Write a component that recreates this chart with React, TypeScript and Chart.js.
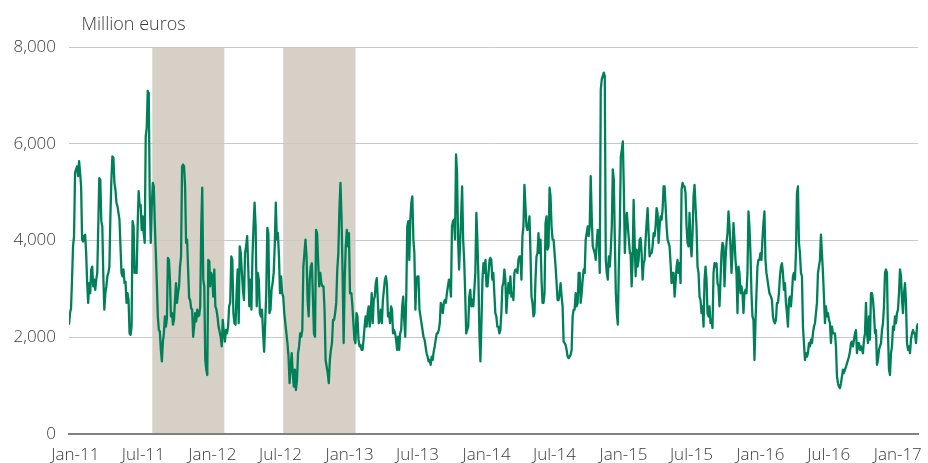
import React, { useEffect, useRef } from 'react';
import { Chart, registerables } from 'chart.js';

Chart.register(...registerables);

// X-axis tick dates and their labels
const tickDates = ['2011-01-01', '2011-07-01', '2012-01-01', '2012-07-01', '2013-01-01', '2013-07-01', '2014-01-01', '2014-07-01', '2015-01-01', '2015-07-01', '2016-01-01', '2016-07-01', '2017-01-01'];
const tickLabels = ['Jan-11', 'Jul-11', 'Jan-12', 'Jul-12', 'Jan-13', 'Jul-13', 'Jan-14', 'Jul-14', 'Jan-15', 'Jul-15', 'Jan-16', 'Jul-16', 'Jan-17'];

// Shaded periods
const shadeStarts = ['2011-07-25', '2012-07-08'];
const shadeEnds = ['2012-02-02', '2013-01-17'];

// Sampling ranges of each yearly series block (values are evenly spaced within each range)
const segmentStarts = ['2010-12-15', '2011-12-26', '2013-01-03', '2014-01-11', '2015-01-20', '2016-01-29'];
const segmentEnds = ['2011-12-24', '2013-01-02', '2014-01-09', '2015-01-18', '2016-01-25', '2017-02-24'];

// Series values (million euros)
const v2011 = [2260, 2500, 2600, 3190, 3880, 4090, 5400, 5470, 5530, 5330, 5640, 5400, 5120, 4020, 3980, 4090, 4120, 3740, 3120, 2710, 3120, 2910, 3400, 3460, 3050, 3190, 2980, 3190, 3330, 4290, 5290, 5260, 4400, 4290, 3260, 2570, 2910, 3050, 3260, 3330, 3460, 4500, 5260, 5740, 5710, 5190, 5050, 4780, 4710, 4570, 4430, 3880, 3330, 3260, 3400, 3120, 3150, 2710, 2910, 2770, 2080, 2050, 2220, 4400, 4290, 3330, 3460, 3330, 4290, 5020, 4710, 4740, 4220, 4500, 4150, 3950, 6150, 6330, 7090, 7050, 4910, 3950, 4710, 5190, 5120, 4360, 3740, 3120, 2430, 2150, 2120, 1740, 1500, 1910, 2080, 2430, 2220, 2390, 3640, 3600, 3190, 2430, 2500, 2260, 2360, 2770, 3120, 2710, 2910, 3050, 3460, 3670, 5530, 5570, 5530, 5120, 3950, 4020, 3400, 2810, 2770, 2600, 2570, 2010, 2220, 2500, 2330, 2570, 2430, 2460, 2640, 4290, 5090, 3190, 3050, 1530, 1330, 1220, 3600, 3570];
const v2012 = [3050, 3330, 3260, 2840, 3400, 2640, 2570, 2430, 2220, 2120, 2010, 1810, 2360, 2080, 1910, 2150, 2080, 2220, 2640, 2710, 3670, 3600, 2500, 2290, 2260, 2910, 3400, 2290, 3880, 3740, 3330, 2980, 2770, 3740, 3880, 4090, 3460, 2640, 3190, 2570, 3670, 4290, 4780, 4290, 2640, 3330, 3190, 2500, 2430, 2570, 2080, 1700, 2290, 2910, 4260, 4150, 2500, 2570, 2980, 3120, 3330, 3880, 4780, 4020, 4150, 3670, 2910, 3260, 2910, 2840, 2500, 2290, 2080, 1880, 1600, 1050, 1390, 1670, 1260, 980, 1330, 910, 1120, 1670, 1810, 2080, 2010, 2150, 3460, 3740, 4020, 3670, 2770, 2430, 3190, 3460, 3530, 2840, 2080, 2010, 4220, 4150, 3530, 3050, 3330, 3120, 3050, 3050, 2570, 1530, 1390, 1260, 1050, 1530, 1740, 1880, 2360, 2360, 2500, 2710, 3400, 3740, 4640, 5190, 4500, 3330, 1880, 3190, 3880, 4220, 3880, 4150, 2910];
const v2013 = [2910, 2910, 2640, 2290, 1950, 1880, 2500, 2430, 1950, 1810, 1840, 1740, 1740, 1950, 2220, 2430, 2220, 2500, 2640, 2220, 2500, 2910, 2290, 2770, 2840, 3120, 3220, 2770, 2290, 2360, 2570, 2290, 2770, 2980, 3190, 3260, 3080, 2430, 2500, 2290, 2640, 2570, 2080, 2150, 2080, 1950, 1740, 2010, 1740, 2080, 2150, 2640, 2840, 2360, 2010, 2840, 4290, 4400, 3600, 4430, 4780, 4910, 4020, 3740, 2570, 3190, 3260, 3260, 2570, 2430, 2290, 2150, 2010, 1950, 1810, 1670, 1600, 1500, 1530, 1430, 1600, 1530, 1700, 1810, 1950, 2080, 2080, 2150, 2290, 2710, 2640, 2500, 2710, 2770, 2710, 2910, 3050, 3190, 3120, 2840, 4290, 4400, 4430, 4020, 5780, 5400, 4020, 3400, 3950, 4500, 5120, 4020, 3600, 2910, 2080, 2150, 2220, 2840, 2980, 2640, 2770, 2640, 2980, 3330, 4570, 4020, 3260, 2080, 1500, 2290, 3190, 3530, 3330, 3600, 3050, 3050, 3330, 3600];
const v2014 = [3640, 3600, 3190, 3330, 2910, 2500, 2430, 2220, 2220, 2080, 2150, 2500, 3050, 3120, 3400, 3190, 2500, 2840, 3120, 2910, 3260, 2840, 2910, 2770, 3330, 3400, 3400, 3330, 3600, 3670, 3670, 3190, 4090, 4290, 5150, 4710, 4290, 4220, 4290, 4500, 3740, 2840, 2710, 2430, 2500, 3190, 3670, 3740, 4150, 3740, 4020, 3190, 2710, 2710, 2910, 4360, 4500, 3810, 3880, 5090, 4910, 4290, 4020, 4020, 3740, 3460, 3120, 2770, 2770, 2910, 3120, 2840, 2640, 1910, 1880, 1840, 1740, 1600, 1570, 1600, 1640, 1740, 2430, 2570, 2570, 2910, 2640, 2710, 3330, 3330, 2710, 2910, 3190, 3400, 3330, 4020, 4150, 4290, 4090, 4290, 5330, 4500, 3880, 3810, 3740, 3600, 3950, 4220, 4020, 3330, 7120, 7330, 7400, 7470, 7400, 3600, 3330, 3190, 3670, 3460, 3810, 4290, 5470, 5260, 4020, 2910, 2500, 2260, 3460, 4290, 5740, 5880, 6050, 5050, 3740, 4360, 4570, 4290, 4020, 3740];
const v2015 = [3740, 3050, 3600, 4840, 4020, 3260, 3810, 3460, 3600, 4020, 4050, 3740, 3190, 3530, 3600, 4020, 4360, 4670, 4150, 3670, 3740, 3740, 3880, 4150, 4090, 4290, 4670, 4570, 3950, 4290, 4500, 4430, 4640, 5120, 5120, 4710, 4290, 4020, 3950, 3880, 3530, 3120, 3330, 3330, 2840, 3120, 3460, 3600, 3330, 3530, 3120, 5050, 5190, 5120, 5120, 4980, 4290, 3950, 3880, 4570, 3950, 3670, 4150, 4910, 5150, 4710, 4290, 3460, 3330, 2840, 2770, 2500, 2640, 2220, 3190, 3460, 3190, 2500, 2430, 2640, 2290, 2360, 2190, 3330, 3530, 3460, 3530, 3120, 3050, 2640, 3190, 3740, 3950, 3880, 3050, 3600, 3950, 4150, 4600, 4290, 3880, 3330, 3740, 4360, 4020, 3600, 3330, 2500, 3460, 3330, 2910, 3050, 2910, 2500, 2910, 2980, 2910, 3330, 4600, 4290, 3740, 2910, 2430, 2360, 1530, 2290, 2910, 3460, 3600, 3600, 3740, 3600, 4020, 4360, 4600, 3600, 3330, 3190, 3050, 2910];
const v2016 = [2840, 2770, 2430, 2330, 2290, 2360, 2710, 2710, 2910, 3260, 3460, 3530, 3330, 2980, 3120, 2710, 2500, 2220, 2770, 2840, 2640, 2910, 3260, 3330, 3190, 3740, 4980, 5120, 3950, 3740, 3330, 3260, 2220, 1880, 1530, 1670, 1600, 1670, 1880, 1810, 1950, 1880, 2080, 2220, 2290, 2500, 2710, 3330, 3460, 3600, 4120, 3740, 3330, 2840, 2290, 2640, 2430, 2500, 2360, 2290, 1880, 2220, 2080, 2080, 2080, 1810, 1190, 1050, 980, 950, 1050, 1190, 1330, 1260, 1330, 1390, 1460, 1530, 1600, 1700, 1880, 1910, 1810, 1950, 2080, 2150, 1670, 1880, 1880, 1740, 1810, 1740, 1670, 1950, 2080, 2710, 2080, 1880, 2430, 1950, 2910, 2910, 2770, 2500, 2080, 2150, 1430, 1530, 1740, 1810, 1880, 2150, 2290, 2640, 3330, 3400, 3330, 2080, 1330, 1220, 1670, 1810, 2220, 2150, 2430, 2290, 2500, 2570, 2910, 3400, 3260, 2770, 2500, 2910, 3120, 2710, 1880, 1740, 1810, 1670, 1950, 2080, 2150, 2080, 2080, 1880, 2220, 2290];

const seriesBlocks = [v2011, v2012, v2013, v2014, v2015, v2016];

const yTicks = [0, 2000, 4000, 6000, 8000];
const yAxisTitle = 'Million euros';

const FONT = '"Open Sans", "Noto Sans", sans-serif';
const TEXT = '#3a3a3a';

const dayOf = (s: string) =>
  (Date.parse(s + 'T00:00:00Z') - Date.parse('2011-01-01T00:00:00Z')) / 86400000;

function buildPoints() {
  const pts: { x: number; y: number }[] = [];
  seriesBlocks.forEach((vals, k) => {
    const a = dayOf(segmentStarts[k]);
    const b = dayOf(segmentEnds[k]);
    vals.forEach((v, i) => {
      pts.push({ x: a + ((b - a) * i) / (vals.length - 1), y: v });
    });
  });
  return pts;
}

const shadePlugin = {
  id: 'shade',
  beforeDraw(chart: any) {
    const { ctx, chartArea, scales } = chart;
    const x = scales.x;
    ctx.save();
    ctx.fillStyle = '#d7d0c7';
    shadeStarts.forEach((s, i) => {
      const x1 = x.getPixelForValue(dayOf(s));
      const x2 = x.getPixelForValue(dayOf(shadeEnds[i]));
      ctx.fillRect(x1, chartArea.top, x2 - x1, chartArea.bottom - chartArea.top);
    });
    ctx.restore();
  },
};

const titlePlugin = {
  id: 'unitTitle',
  afterDraw(chart: any) {
    const { ctx, chartArea } = chart;
    ctx.save();
    ctx.font = `300 18px ${FONT}`;
    ctx.fillStyle = TEXT;
    ctx.textAlign = 'left';
    ctx.textBaseline = 'alphabetic';
    ctx.fillText(yAxisTitle, chartArea.left + 12.5, chartArea.top - 17.5);
    ctx.restore();
  },
};

export default function App() {
  const ref = useRef<HTMLCanvasElement | null>(null);

  useEffect(() => {
    if (!ref.current) return;
    const points = buildPoints();
    const chart = new Chart(ref.current, {
      type: 'line',
      data: {
        datasets: [
          {
            data: points,
            borderColor: '#008058',
            borderWidth: 2.3,
            pointRadius: 0,
            tension: 0,
            fill: false,
            borderJoinStyle: 'round',
          } as any,
        ],
      },
      options: {
        animation: false,
        responsive: false,
        devicePixelRatio: 1,
        layout: { padding: { top: 47, right: 10, left: 0, bottom: 0 } },
        plugins: {
          legend: { display: false },
          tooltip: { enabled: false },
          title: { display: false },
        },
        scales: {
          x: {
            type: 'linear',
            min: dayOf(segmentStarts[0]),
            max: dayOf(segmentEnds[segmentEnds.length - 1]),
            grid: { display: false },
            border: { display: true, color: '#808080', width: 2 },
            ticks: {
              autoSkip: false,
              maxRotation: 0,
              minRotation: 0,
              padding: 3,
              color: TEXT,
              font: { family: FONT, size: 17, weight: '300' },
              callback: (_v: any, i: number) => tickLabels[i] ?? '',
            },
            afterBuildTicks: (s: any) => {
              s.ticks = tickDates.map((d) => ({ value: dayOf(d) }));
            },
            afterFit: (s: any) => {
              s.height = 29;
            },
          },
          y: {
            min: 0,
            max: 8000,
            grid: {
              color: (c: any) => (c.tick && c.tick.value === 0 ? 'rgba(0,0,0,0)' : '#c8c8c8'),
              lineWidth: 1,
              drawTicks: false,
            },
            border: { display: false },
            ticks: {
              padding: 13,
              color: TEXT,
              font: { family: FONT, size: 17, weight: '300' },
              callback: (v: any) => Number(v).toLocaleString('en-US'),
            },
            afterBuildTicks: (s: any) => {
              s.ticks = yTicks.map((v) => ({ value: v }));
            },
            afterFit: (s: any) => {
              s.width = 69;
            },
          },
        },
      } as any,
      plugins: [shadePlugin, titlePlugin],
    });
    return () => chart.destroy();
  }, []);

  return (
    <div style={{ position: 'absolute', left: 0, top: 0, width: 928, height: 463, background: '#ffffff' }}>
      <canvas ref={ref} width={928} height={463} />
    </div>
  );
}
